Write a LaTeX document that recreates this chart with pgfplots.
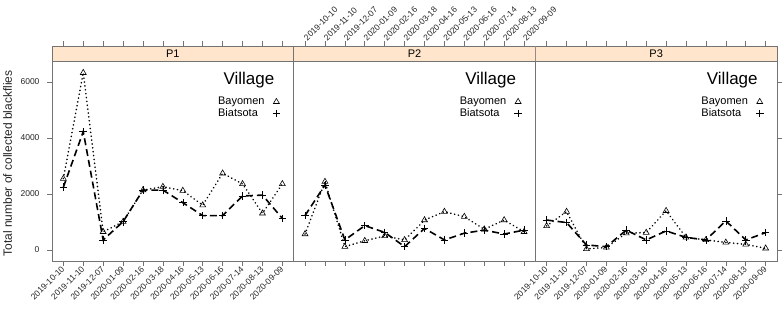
\documentclass[border=0pt]{standalone}
\usepackage{pgfplots}
\pgfplotsset{compat=1.18}
\usepackage{fontspec}
\setmainfont{Liberation Sans}
\definecolor{stripc}{HTML}{FFE5CC}
\definecolor{framec}{gray}{0.45}

\pgfplotsset{
 panel/.style={
  scale only axis, width=241.7pt, height=215pt,
  xmin=0.43, xmax=12.57, ymin=-393, ymax=7286,
  xtick={1,...,12},
  xticklabels={2019-10-10,2019-11-10,2019-12-07,2020-01-09,2020-02-16,2020-03-18,2020-04-16,2020-05-13,2020-06-16,2020-07-14,2020-08-13,2020-09-09},
  ytick={0,2000,4000,6000},
  tick align=outside, major tick length=5pt,
  axis line style={framec, line width=0.8pt},
  every tick/.style={framec, line width=0.6pt},
  tick label style={font=\fontsize{8.5}{9}\selectfont, text=black!85},
  /pgf/number format/assume math mode=true,
  /pgf/number format/1000 sep={},
  scaled y ticks=false,
  legend cell align=left, legend plot pos=right,
  legend style={draw=none, fill=none, at={(axis description cs:0.945,0.772)}, anchor=north east,
    font=\fontsize{11}{11}\selectfont, row sep=-1.5pt, inner sep=0pt, /tikz/column sep=6pt},
  legend image code/.code={\draw[##1, only marks] plot coordinates {(0cm,0cm)};},
 },
 bay/.style={black, line width=1.7pt, dash pattern=on 0.1pt off 3.8pt, line cap=round,
   mark=triangle, mark size=3.4pt, mark options={solid, line width=0.6pt, fill=white, line cap=butt}},
 bia/.style={black, line width=1.6pt, dash pattern=on 7pt off 4pt,
   mark=+, mark size=3.8pt, mark options={solid, line width=0.6pt}},
}
\newcommand{\stripandtitle}[1]{%
  \draw[framec, line width=0.8pt, fill=stripc] (axis description cs:0,0.9302) rectangle (axis description cs:1,1);
  \node[font=\fontsize{11}{11}\selectfont] at (axis description cs:0.5,0.965) {#1};
  \node[font=\fontsize{17}{17}\selectfont] at (axis description cs:0.815,0.842) {Village};
}

\begin{document}
\begin{tikzpicture}
\useasboundingbox (0,0) rectangle (784pt,311pt);

% P1
\begin{axis}[panel, at={(52pt,50pt)}, anchor=south west,
  xticklabel pos=lower, xtick pos=both, ytick pos=left,
  xticklabel style={rotate=45, anchor=east, xshift=2pt, yshift=-1pt},
  yticklabel style={xshift=-4pt}]
\addplot[bay] coordinates {(1,2550) (2,6330) (3,650) (4,1010) (5,2140) (6,2260) (7,2120) (8,1600) (9,2740) (10,2360) (11,1310) (12,2360)};
\addlegendentry{Bayomen}
\addplot[bia] coordinates {(1,2240) (2,4230) (3,360) (4,1010) (5,2140) (6,2140) (7,1690) (8,1230) (9,1230) (10,1930) (11,1960) (12,1130)};
\addlegendentry{Biatsota}
\stripandtitle{P1}
\end{axis}

% P2
\begin{axis}[panel, at={(293.7pt,50pt)}, anchor=south west,
  xticklabel pos=upper, xtick pos=both, ytick=\empty,
  xticklabel style={rotate=45, anchor=west, xshift=-2pt, yshift=1pt}]
\addplot[bay] coordinates {(1,570) (2,2440) (3,120) (4,330) (5,500) (6,360) (7,1070) (8,1370) (9,1190) (10,740) (11,1070) (12,650)};
\addlegendentry{Bayomen}
\addplot[bia] coordinates {(1,1230) (2,2320) (3,360) (4,870) (5,630) (6,120) (7,770) (8,360) (9,600) (10,710) (11,570) (12,710)};
\addlegendentry{Biatsota}
\stripandtitle{P2}
\end{axis}

% P3
\begin{axis}[panel, at={(535.3pt,50pt)}, anchor=south west,
  xticklabel pos=lower, xtick pos=both, ytick pos=right, yticklabels={},
  xticklabel style={rotate=45, anchor=east, xshift=2pt, yshift=-1pt}]
\addplot[bay] coordinates {(1,860) (2,1370) (3,40) (4,90) (5,600) (6,620) (7,1400) (8,450) (9,360) (10,270) (11,200) (12,60)};
\addlegendentry{Bayomen}
\addplot[bia] coordinates {(1,1070) (2,980) (3,180) (4,120) (5,710) (6,360) (7,680) (8,450) (9,360) (10,1040) (11,360) (12,620)};
\addlegendentry{Biatsota}
\stripandtitle{P3}
\end{axis}

\node[rotate=90, font=\fontsize{12}{12}\selectfont, text=black!85] at (7.5pt,147.5pt) {Total number of collected blackflies};
\end{tikzpicture}
\end{document}
